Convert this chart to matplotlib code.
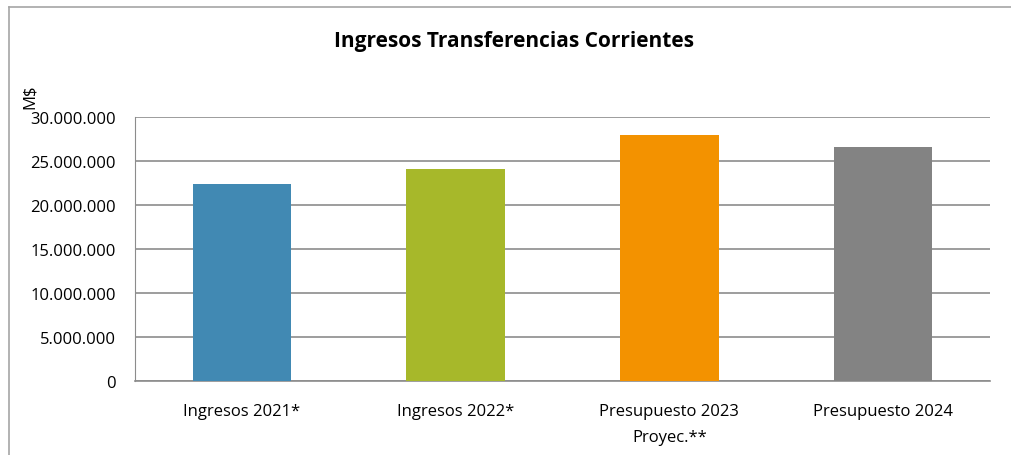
"""
Grafico a barre: Ingresos Transferencias Corrientes (M$)
"""

import matplotlib.pyplot as plt
from matplotlib.lines import Line2D
from matplotlib.ticker import FuncFormatter

categorias = ["Ingresos 2021*", "Ingresos 2022*", "Presupuesto 2023\nProyec.**", "Presupuesto 2024"]
valores = [22_400_000, 24_100_000, 27_900_000, 26_600_000]
colores = ["#4189b3", "#a7b82a", "#f39200", "#838383"]
yticks = [0, 5_000_000, 10_000_000, 15_000_000, 20_000_000, 25_000_000, 30_000_000]

plt.rcParams["font.family"] = ["Open Sans", "DejaVu Sans"]

W, H = 1011, 456
fig = plt.figure(figsize=(W / 100, H / 100), dpi=100)
ax = fig.add_axes([135 / W, (H - 382) / H, (990 - 135) / W, (382 - 118) / H])

x = range(len(categorias))
ax.bar(x, valores, width=0.46, color=colores, zorder=3)

ax.set_xlim(-0.5, len(categorias) - 0.5)
ax.set_ylim(0, 30_000_000)
ax.set_yticks(yticks)
ax.yaxis.set_major_formatter(FuncFormatter(lambda v, _: f"{int(v):,}".replace(",", ".")))
ax.set_xticks(list(x))
ax.set_xticklabels(categorias, fontsize=12, linespacing=1.85)
ax.tick_params(axis="both", length=0, labelsize=12)
ax.tick_params(axis="x", pad=16)
ax.tick_params(axis="y", pad=14)

# griglia orizzontale grigia, come nel foglio originale
ax.grid(axis="y", color="#8c8c8c", linewidth=1.2, zorder=0)
for s in ["top", "right"]:
    ax.spines[s].set_visible(False)
ax.spines["left"].set_color("#8c8c8c")
ax.spines["bottom"].set_color("#8c8c8c")
ax.spines["bottom"].set_linewidth(1.2)

fig.text(514 / W, 1 - 42 / H, "Ingresos Transferencias Corrientes",
         ha="center", va="center", fontsize=15, fontweight="bold")
fig.text(30 / W, 1 - 97 / H, "M$", rotation=90, ha="center", va="center", fontsize=12)

# cornice del grafico (solo lati superiore e sinistro visibili)
fig.add_artist(Line2D([9 / W, 1.0], [1 - 8 / H, 1 - 8 / H], transform=fig.transFigure,
                      color="#a6a6a6", linewidth=1.2))
fig.add_artist(Line2D([9 / W, 9 / W], [0, 1 - 8 / H], transform=fig.transFigure,
                      color="#a6a6a6", linewidth=1.2))

fig.savefig("out.png", dpi=100)
